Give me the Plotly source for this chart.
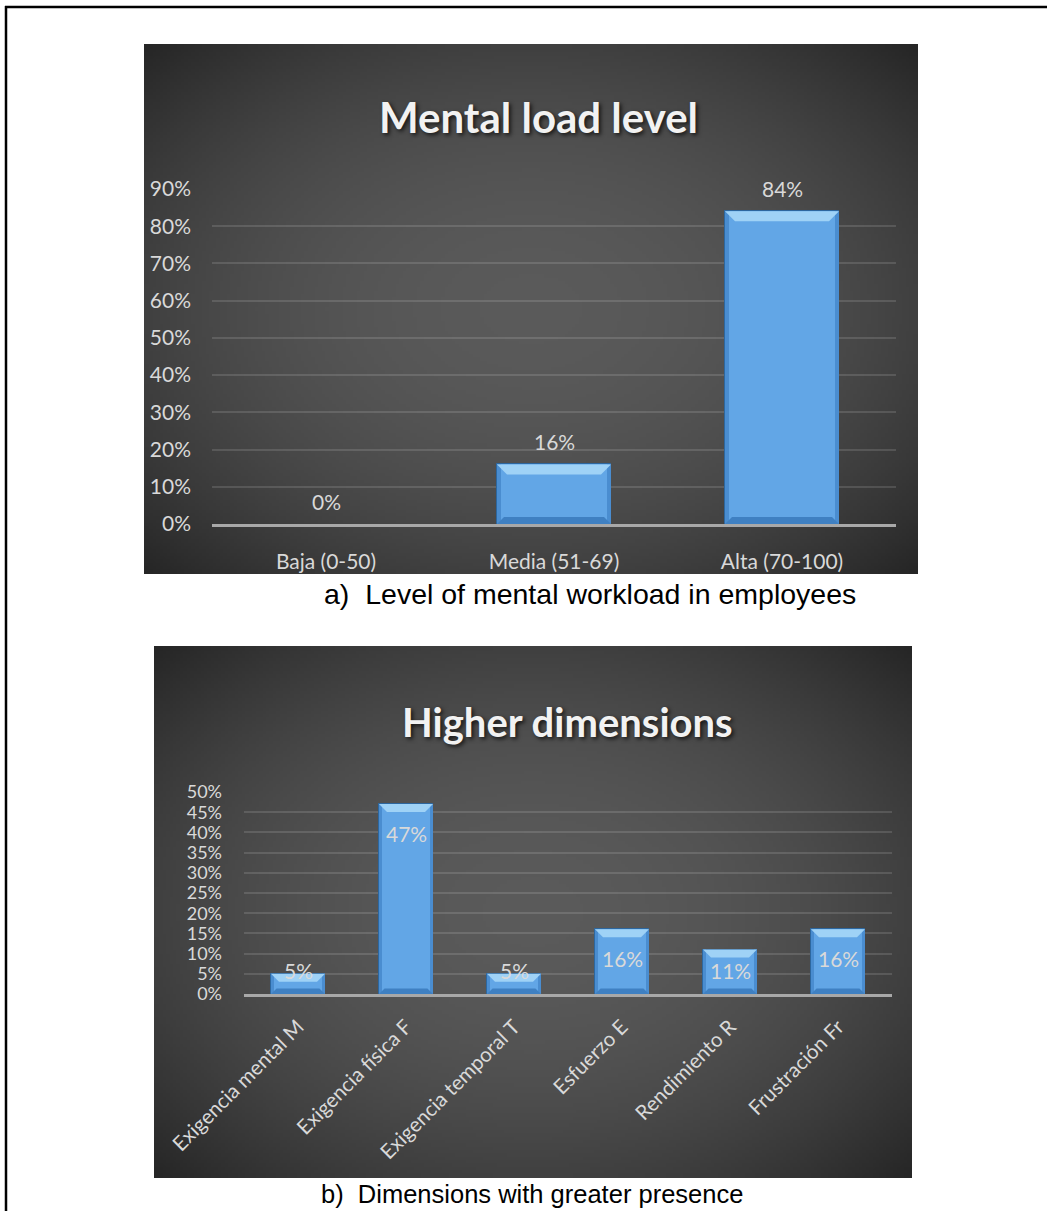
import base64
import struct
import zlib

import plotly.graph_objects as go

# ---- data -------------------------------------------------------------
load_levels = ["Baja (0-50)", "Media (51-69)", "Alta (70-100)"]
load_share = [0.00, 0.16, 0.84]

dimensions = [
    "Exigencia mental M",
    "Exigencia física F",
    "Exigencia temporal T",
    "Esfuerzo E",
    "Rendimiento R",
    "Frustración Fr",
]
dimension_share = [0.05, 0.47, 0.05, 0.16, 0.11, 0.16]

title_a = "Mental load level"
title_b = "Higher dimensions"
caption_a = "a)  Level of mental workload in employees"
caption_b = "b)  Dimensions with greater presence"

# ---- page geometry (pixels) -------------------------------------------
W, H = 1047, 1211


def px(x):
    return x / W


def py(y):
    return 1 - y / H


FONT = "Lato, 'Open Sans', sans-serif"
LABEL = "#D9D9D9"
BAR_FACE = "#62a6e6"
BAR_EDGE = "#2d679f"
BEVEL_TOP = "#9fd2f6"
BEVEL_BOTTOM = "#3f80c2"
BEVEL_SIDE = "#4a8dd0"


def gradient_png(w, h, inner, outer):
    """Grey radial gradient encoded as a PNG data URI."""
    rows = []
    for j in range(h):
        row = bytearray([0])
        dy = (j + 0.5) / h * 2 - 1
        for i in range(w):
            dx = (i + 0.5) / w * 2 - 1
            t = min((dx * dx + dy * dy) / 2, 1.0)
            row.append(int(round(inner + (outer - inner) * t)))
        rows.append(bytes(row))
    raw = b"".join(rows)

    def chunk(tag, data):
        body = tag + data
        return struct.pack(">I", len(data)) + body + struct.pack(">I", zlib.crc32(body) & 0xFFFFFFFF)

    png = (
        b"\x89PNG\r\n\x1a\n"
        + chunk(b"IHDR", struct.pack(">IIBBBBB", w, h, 8, 0, 0, 0, 0))
        + chunk(b"IDAT", zlib.compress(raw, 9))
        + chunk(b"IEND", b"")
    )
    return "data:image/png;base64," + base64.b64encode(png).decode()


bg = gradient_png(220, 160, 90, 37)

# panel boxes and plot areas (left, top, right, bottom)
panel_a = (144, 44, 918, 574)
plot_a = (212, 189, 896, 524)
panel_b = (154, 646, 912, 1178)
plot_b = (244, 792, 892, 994)

fig = go.Figure()


def bar_trace(values, xa, ya):
    return go.Bar(
        x=list(range(len(values))), y=values, width=0.5,
        marker=dict(color=BAR_FACE,
                    line=dict(color=BAR_EDGE, width=[1 if v > 0 else 0 for v in values])),
        xaxis=xa, yaxis=ya, hoverinfo="skip", showlegend=False,
    )


fig.add_trace(bar_trace(load_share, "x", "y"))
fig.add_trace(bar_trace(dimension_share, "x2", "y2"))

shapes = []
annotations = []


def bevels(values, xref, yref, half_w, depth, side):
    """Light top edge, darker base and sides to give each bar a bevelled look."""
    out = []
    for i, v in enumerate(values):
        if v <= 0:
            continue
        for x0, x1 in ((-half_w, -half_w + side), (half_w - side, half_w)):
            out.append(dict(
                type="rect", xref=xref, yref=yref, xsizemode="pixel", xanchor=i,
                x0=x0, x1=x1, y0=0, y1=v, fillcolor=BEVEL_SIDE, line_width=0, layer="above",
            ))
        out.append(dict(
            type="path", xref=xref, yref=yref, xsizemode="pixel", ysizemode="pixel",
            xanchor=i, yanchor=v,
            path=f"M {-half_w},0 L {half_w},0 L {half_w - depth},{-depth} L {-half_w + depth},{-depth} Z",
            fillcolor=BEVEL_TOP, line_width=0, layer="above",
        ))
        out.append(dict(
            type="path", xref=xref, yref=yref, xsizemode="pixel", ysizemode="pixel",
            xanchor=i, yanchor=0,
            path=f"M {-half_w},0 L {half_w},0 L {half_w - depth * 0.7},{depth * 0.7} L {-half_w + depth * 0.7},{depth * 0.7} Z",
            fillcolor=BEVEL_BOTTOM, line_width=0, layer="above",
        ))
    return out


cat_px_a = (plot_a[2] - plot_a[0]) / len(load_levels)
cat_px_b = (plot_b[2] - plot_b[0]) / len(dimensions)
shapes += bevels(load_share, "x", "y", cat_px_a * 0.25, 10, 4)
shapes += bevels(dimension_share, "x2", "y2", cat_px_b * 0.25, 8, 3)

# chart backgrounds
images = []
for (l, t, r, b) in (panel_a, panel_b):
    images.append(dict(
        source=bg, xref="paper", yref="paper", x=px(l), y=py(t),
        sizex=(r - l) / W, sizey=(b - t) / H, xanchor="left", yanchor="top",
        sizing="stretch", layer="below",
    ))

# outer frame (left and top edges)
shapes.append(dict(type="line", xref="paper", yref="paper", x0=px(6), x1=px(6), y0=py(6), y1=0,
                   line=dict(color="black", width=2.5)))
shapes.append(dict(type="line", xref="paper", yref="paper", x0=px(5), x1=1, y0=py(7), y1=py(7),
                   line=dict(color="black", width=2.5)))

# value labels: chart a above the bars
for i, v in enumerate(load_share):
    annotations.append(dict(
        x=i, y=v, xref="x", yref="y", text=f"{v:.0%}", showarrow=False,
        yanchor="bottom", yshift=8, font=dict(family=FONT, size=21, color=LABEL),
    ))

# value labels: chart b inside the bar tops
px_per_unit_b = (plot_b[3] - plot_b[1]) / 0.5
for i, v in enumerate(dimension_share):
    label_y = max(v - 29 / px_per_unit_b, 24 / px_per_unit_b)
    annotations.append(dict(
        x=i, y=label_y, xref="x2", yref="y2", text=f"{v:.0%}", showarrow=False,
        yanchor="middle", font=dict(family=FONT, size=21, color=LABEL),
    ))

# chart titles
title_font = dict(family=FONT, size=42, color="#F2F2F2", weight="bold",
                  shadow="2px 2px 4px rgba(0,0,0,0.75)")
annotations.append(dict(x=px(538), y=py(117), xref="paper", yref="paper", text=title_a,
                        showarrow=False, xanchor="center", yanchor="middle", font=title_font))
annotations.append(dict(x=px(567), y=py(722), xref="paper", yref="paper", text=title_b,
                        showarrow=False, xanchor="center", yanchor="middle",
                        font={**title_font, "size": 40}))

# figure captions
cap_font = dict(family="'Liberation Sans', Arial, sans-serif", size=28.5, color="black")
annotations.append(dict(x=px(590), y=py(594), xref="paper", yref="paper", text=caption_a,
                        showarrow=False, xanchor="center", yanchor="middle", font=cap_font))
annotations.append(dict(x=px(532), y=py(1194), xref="paper", yref="paper", text=caption_b,
                        showarrow=False, xanchor="center", yanchor="middle",
                        font={**cap_font, "size": 25.5}))

grid = "rgba(255,255,255,0.13)"
tick_font = dict(family=FONT, size=21, color=LABEL)

fig.update_layout(
    width=W, height=H, margin=dict(l=0, r=0, t=0, b=0, pad=0, autoexpand=False),
    paper_bgcolor="white", plot_bgcolor="rgba(0,0,0,0)",
    bargap=0, showlegend=False,
    shapes=shapes, annotations=annotations, images=images,
    xaxis=dict(
        domain=[px(plot_a[0]), px(plot_a[2])], anchor="y", range=[-0.5, len(load_levels) - 0.5],
        tickvals=list(range(len(load_levels))), ticktext=load_levels, automargin=False,
        showgrid=False, zeroline=False, showline=True, linecolor="#a8a8a8", linewidth=2.5,
        ticks="", ticklabelstandoff=17, tickfont=tick_font, fixedrange=True,
    ),
    yaxis=dict(
        domain=[py(plot_a[3]), py(plot_a[1])], anchor="x", range=[0, 0.9], dtick=0.1,
        tickformat=".0%", showgrid=True, gridcolor=grid, gridwidth=1.5, zeroline=False,
        automargin=False,
        showline=False, ticks="", ticklabelstandoff=20, tickfont=tick_font, fixedrange=True,
    ),
    xaxis2=dict(
        domain=[px(plot_b[0]), px(plot_b[2])], anchor="y2", range=[-0.5, len(dimensions) - 0.5],
        tickvals=list(range(len(dimensions))), ticktext=dimensions, tickangle=-45,
        showgrid=False, zeroline=False, showline=True, linecolor="#a8a8a8", linewidth=2.5,
        ticks="", ticklabelstandoff=10, tickfont=dict(family=FONT, size=20.5, color=LABEL),
        fixedrange=True, automargin=False,
    ),
    yaxis2=dict(
        domain=[py(plot_b[3]), py(plot_b[1])], anchor="x2", range=[0, 0.5], dtick=0.05,
        tickformat=".0%", showgrid=True, gridcolor=grid, gridwidth=1.5, zeroline=False,
        showline=False, ticks="", ticklabelstandoff=21, automargin=False,
        tickfont=dict(family=FONT, size=18, color=LABEL), fixedrange=True,
    ),
)

fig.write_html("out.html")
